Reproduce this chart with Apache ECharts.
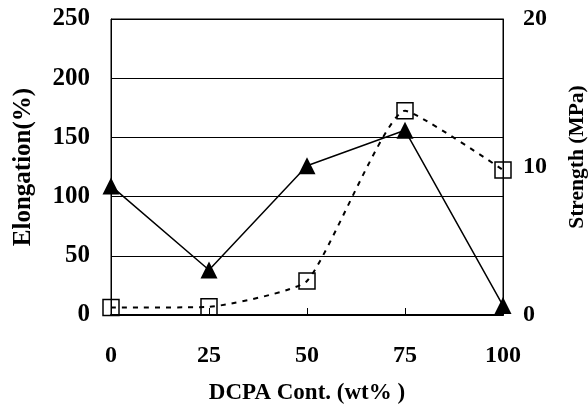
<!DOCTYPE html>
<html>
<head>
<meta charset="utf-8">
<script src="https://cdn.jsdelivr.net/npm/echarts@6/dist/echarts.min.js"></script>
<style>
  html, body { margin: 0; padding: 0; background: #fff; }
  #main { width: 588px; height: 410px; }
</style>
</head>
<body>
<div id="main"></div>
<script>
// DCPA content (wt%)
var categories = ['0', '25', '50', '75', '100'];
// elongation (%), left axis - filled triangles
var elongation = [109, 38, 126, 156, 8];
// strength (MPa), right axis - open squares
var strength = [0.5, 0.55, 2.3, 13.8, 9.8];

var FONT = '"Liberation Serif", "Times New Roman", serif';

var myChart = echarts.init(document.getElementById('main'));
myChart.setOption({
    animation: false,
    grid: {
        left: 111, right: 85, top: 19, bottom: 95,
        outerBoundsMode: 'none',
        show: true, borderColor: '#000', borderWidth: 1
    },
    xAxis: {
        type: 'category',
        data: categories,
        boundaryGap: false,
        name: 'DCPA Cont. (wt% )',
        nameLocation: 'middle',
        nameGap: 67,
        nameTextStyle: { fontFamily: FONT, fontWeight: 'bold', fontSize: 23, color: '#000' },
        axisLine: { lineStyle: { color: '#000', width: 2 } },
        axisTick: { inside: true, length: 7, lineStyle: { color: '#000' } },
        axisLabel: { fontFamily: FONT, fontWeight: 'bold', fontSize: 24, color: '#000', margin: 29 },
        splitLine: { show: false }
    },
    yAxis: [
        {
            type: 'value',
            min: 0, max: 250, interval: 50,
            name: 'Elongation(%)',
            nameLocation: 'middle',
            nameRotate: 90,
            nameGap: 75,
            nameTextStyle: { fontFamily: FONT, fontWeight: 'bold', fontSize: 25, color: '#000' },
            axisLine: { show: true, lineStyle: { color: '#000' } },
            axisTick: { show: false },
            axisLabel: { fontFamily: FONT, fontWeight: 'bold', fontSize: 25, color: '#000', margin: 21 },
            splitLine: { show: true, lineStyle: { color: '#000', width: 1 } }
        },
        {
            type: 'value',
            min: 0, max: 20, interval: 10,
            name: 'Strength (MPa)',
            nameLocation: 'middle',
            nameRotate: 90,
            nameGap: 63,
            nameTextStyle: { fontFamily: FONT, fontWeight: 'bold', fontSize: 21.5, color: '#000', padding: [0, 0, 0, 20] },
            axisLine: { show: true, lineStyle: { color: '#000' } },
            axisTick: { show: false },
            axisLabel: { fontFamily: FONT, fontWeight: 'bold', fontSize: 24, color: '#000', margin: 20 },
            splitLine: { show: false }
        }
    ],
    series: [
        {
            name: 'Strength',
            type: 'line',
            yAxisIndex: 1,
            data: strength,
            smooth: 0.15,
            symbol: 'rect',
            symbolSize: 16,
            lineStyle: { color: '#000', width: 2, type: [5, 6] },
            itemStyle: { color: 'rgba(255,255,255,0)', borderColor: '#000', borderWidth: 1.5 }
        },
        {
            name: 'Elongation',
            type: 'line',
            yAxisIndex: 0,
            data: elongation,
            symbol: 'triangle',
            symbolSize: 17,
            lineStyle: { color: '#000', width: 1.5 },
            itemStyle: { color: '#000' }
        }
    ]
});
</script>
</body>
</html>
